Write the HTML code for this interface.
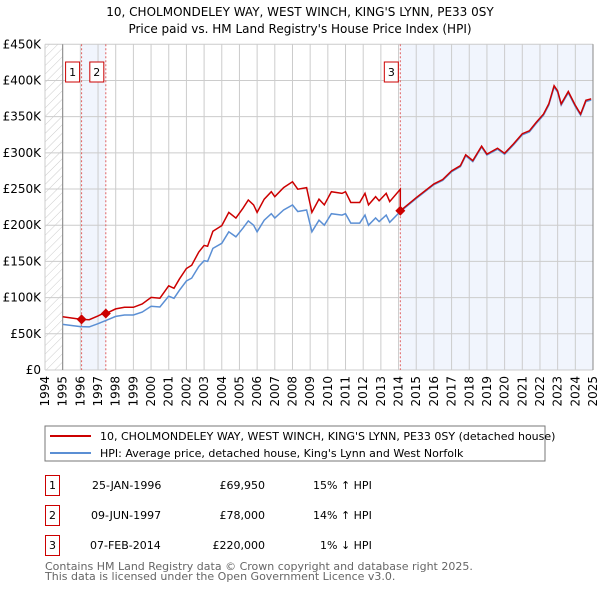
<!DOCTYPE html>
<html><head><meta charset="utf-8"><style>
body{margin:0;background:#fff;width:600px;height:590px;overflow:hidden;font-family:"DejaVu Sans","Liberation Sans",sans-serif;}
svg{position:absolute;left:0;top:0}
</style></head><body>
<svg id="c" width="600" height="590" xmlns="http://www.w3.org/2000/svg">
<text x="300" y="16" text-anchor="middle" font-size="12">10, CHOLMONDELEY WAY, WEST WINCH, KING'S LYNN, PE33 0SY</text>
<text x="300" y="33" text-anchor="middle" font-size="12">Price paid vs. HM Land Registry's House Price Index (HPI)</text>
<defs><pattern id="hatch" width="6" height="6" patternUnits="userSpaceOnUse" patternTransform="rotate(45)"><line x1="0" y1="0" x2="0" y2="6" stroke="#ccc" stroke-width="1"/></pattern></defs>
<g id="plot"></g>
<rect x="45" y="426" width="500" height="35" fill="#fff" stroke="#777"/>
<line x1="50" y1="436" x2="91" y2="436" stroke="#cc0000" stroke-width="2"/>
<text x="100" y="440" font-size="11">10, CHOLMONDELEY WAY, WEST WINCH, KING'S LYNN, PE33 0SY (detached house)</text>
<line x1="50" y1="453" x2="91" y2="453" stroke="#5b8fd4" stroke-width="2"/>
<text x="100" y="457" font-size="11">HPI: Average price, detached house, King's Lynn and West Norfolk</text>
<g font-size="11">
<rect x="45.5" y="475.5" width="14" height="20" fill="#fff" stroke="#cc0000"/><text x="52.5" y="489" text-anchor="middle">1</text>
<text x="92" y="489">25-JAN-1996</text><text x="265" y="489" text-anchor="end">£69,950</text><text x="313" y="489">15% ↑ HPI</text>
<rect x="45.5" y="505.5" width="14" height="20" fill="#fff" stroke="#cc0000"/><text x="52.5" y="519" text-anchor="middle">2</text>
<text x="91" y="519">09-JUN-1997</text><text x="265" y="519" text-anchor="end">£78,000</text><text x="313" y="519">14% ↑ HPI</text>
<rect x="45.5" y="535.5" width="14" height="20" fill="#fff" stroke="#cc0000"/><text x="52.5" y="549" text-anchor="middle">3</text>
<text x="90" y="549">07-FEB-2014</text><text x="265" y="549" text-anchor="end">£220,000</text><text x="320" y="549">1% ↓ HPI</text>
</g>
<text x="45" y="570" font-size="11" fill="#666">Contains HM Land Registry data © Crown copyright and database right 2025.</text>
<text x="45" y="580" font-size="11" fill="#666">This data is licensed under the Open Government Licence v3.0.</text>
</svg>
<script>
const hpiYears=[1995.0,1995.5,1996.0,1996.5,1997.0,1997.5,1998.0,1998.5,1999.0,1999.5,2000.0,2000.5,2001.0,2001.3,2001.6,2002.0,2002.3,2002.7,2003.0,2003.2,2003.5,2004.0,2004.4,2004.8,2005.2,2005.5,2005.8,2006.0,2006.4,2006.8,2007.0,2007.5,2008.0,2008.3,2008.8,2009.1,2009.5,2009.8,2010.2,2010.8,2011.0,2011.3,2011.8,2012.1,2012.3,2012.7,2012.9,2013.3,2013.5,2014.1,2015.0,2016.0,2016.5,2017.0,2017.5,2017.8,2018.2,2018.7,2019.0,2019.6,2020.0,2020.5,2021.0,2021.4,2021.8,2022.2,2022.5,2022.8,2023.0,2023.2,2023.6,2024.0,2024.3,2024.6,2024.9];
const hpiValues=[63000,61500,60000,59500,64000,69000,74000,76000,76000,80000,88000,87000,102000,99000,110000,123000,127000,143000,151000,150000,168000,175000,191000,184000,196000,206000,200000,191000,207000,216000,210000,221000,228000,219000,221000,191000,207000,200000,216000,214000,216000,203000,203000,214000,200000,210000,205000,214000,204000,219000,237000,256000,262000,274000,281000,296000,288000,308000,297000,305000,298000,311000,325000,329000,341000,352000,366000,391000,384000,366000,383000,364000,352000,371000,373000];
const saleYears=[1996.07,1997.44,2014.10];
const salePrices=[69950,78000,220000];
const saleLabels=["1","2","3"];
const yTicks=[0,50000,100000,150000,200000,250000,300000,350000,400000,450000];
const yTickLabels=["£0","£50K","£100K","£150K","£200K","£250K","£300K","£350K","£400K","£450K"];
const xTicks=[1994,1995,1996,1997,1998,1999,2000,2001,2002,2003,2004,2005,2006,2007,2008,2009,2010,2011,2012,2013,2014,2015,2016,2017,2018,2019,2020,2021,2022,2023,2024,2025];

const X0=45,X1=593,Y0=370,Y1=44.3,YR0=1994,YR1=2025,VMAX=450000;
const xs=y=>X0+(y-YR0)/(YR1-YR0)*(X1-X0);
const ys=v=>Y0-v/VMAX*(Y0-Y1);
const NS="http://www.w3.org/2000/svg";
const g=document.getElementById('plot');
function mk(t,a,p){const e=document.createElementNS(NS,t);for(const k in a)e.setAttribute(k,a[k]);(p||g).appendChild(e);return e;}
function hpiAt(t){if(t<=hpiYears[0])return hpiValues[0];for(let i=1;i<hpiYears.length;i++){if(t<=hpiYears[i]){const f=(t-hpiYears[i-1])/(hpiYears[i]-hpiYears[i-1]);return hpiValues[i-1]+f*(hpiValues[i]-hpiValues[i-1]);}}return hpiValues[hpiValues.length-1];}

let e=mk('rect',{x:xs(1994),y:Y1,width:xs(1995)-xs(1994),height:Y0-Y1,fill:'url(#hatch)'});


e=mk('rect',{x:xs(saleYears[0]),y:Y1,width:xs(saleYears[1])-xs(saleYears[0]),height:Y0-Y1,fill:'#eef3fc',opacity:0.8});


e=mk('rect',{x:xs(saleYears[2]),y:Y1,width:X1-xs(saleYears[2]),height:Y0-Y1,fill:'#eef3fc',opacity:0.8});


yTicks.forEach((v,i)=>{
 const l=mk('line',{x1:X0,x2:X1,y1:ys(v),y2:ys(v),stroke:'#ccc','stroke-width':1});
 
 
 const t=mk('text',{x:X0-4,y:ys(v)+4,'text-anchor':'end','font-size':12});t.textContent=yTickLabels[i];
 
 
});
xTicks.forEach(y=>{
 const l=mk('line',{x1:xs(y),x2:xs(y),y1:Y1,y2:Y0,stroke:'#ccc','stroke-width':1});
 
 
 const t=mk('text',{x:0,y:0,'font-size':12,'text-anchor':'end',transform:`translate(${xs(y)+4},${Y0+6}) rotate(-90)`});t.textContent=y;
 
 
});
e=mk('line',{x1:xs(1995),x2:xs(1995),y1:Y1,y2:Y0,stroke:'#888'});


e=mk('line',{x1:X1,x2:X1,y1:Y1,y2:Y0,stroke:'#888'});


saleYears.forEach((s,i)=>{
 const l=mk('line',{x1:xs(s),x2:xs(s),y1:Y1,y2:Y0,stroke:'#e06060','stroke-dasharray':'2,2','stroke-width':1});
 
 
});
const hp=hpiYears.map((y,i)=>xs(y).toFixed(1)+','+ys(hpiValues[i]).toFixed(1)).join(' ');
e=mk('polyline',{points:hp,fill:'none',stroke:'#5b8fd4','stroke-width':1.5});


const pts=[];
const times=hpiYears.slice();saleYears.forEach(s=>{times.push(s-0.001);times.push(s);});times.sort((a,b)=>a-b);
times.forEach(t=>{
 let k=0;for(let i=0;i<saleYears.length;i++)if(t>=saleYears[i])k=i;
 const v=salePrices[k]*hpiAt(t)/hpiAt(saleYears[k]);
 pts.push(xs(t).toFixed(1)+','+ys(v).toFixed(1));
});
e=mk('polyline',{points:pts.join(' '),fill:'none',stroke:'#cc0000','stroke-width':1.5});


saleYears.forEach((s,i)=>{
 const x=xs(s),y=ys(salePrices[i]);
 const d=mk('path',{d:`M${x},${y-5}L${x+5},${y}L${x},${y+5}L${x-5},${y}Z`,fill:'#cc0000'});
 
 
 const r=mk('rect',{x:x-16,y:62,width:14,height:20,fill:'#fff',stroke:'#cc0000'});
 
 
 const t=mk('text',{x:x-9,y:76,'text-anchor':'middle','font-size':11});t.textContent=saleLabels[i];
 
 
});
</script>
</body></html>
